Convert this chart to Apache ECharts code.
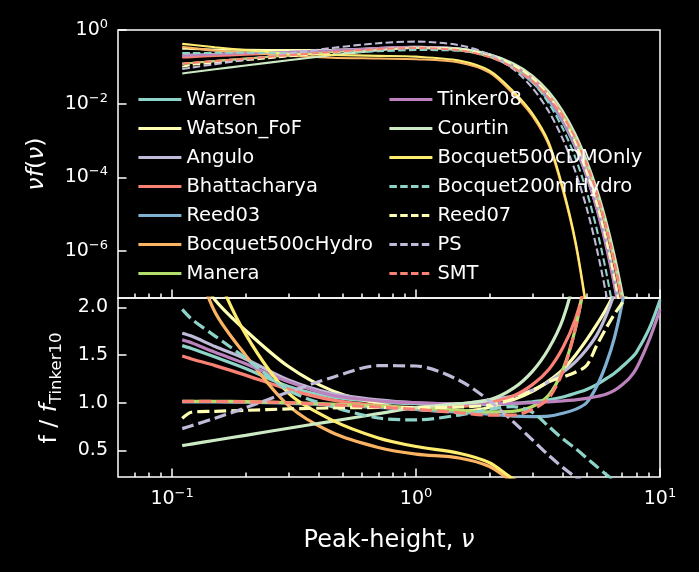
<!DOCTYPE html>
<html>
<head>
<meta charset="utf-8">
<title>Mass function fits vs peak height</title>
<script src="https://cdn.jsdelivr.net/npm/echarts@6.0.0/dist/echarts.min.js"></script>
<style>
  html, body { margin: 0; padding: 0; background: #000; }
  #chart { width: 699px; height: 572px; }
</style>
</head>
<body>
<div id="chart"></div>
<script>
// peak height grid shared by every curve
var nu = [0.11, 0.12, 0.15, 0.2, 0.3, 0.45, 0.7, 1.0, 1.5, 2.0, 2.5, 3.0, 3.5, 4.0, 4.5, 5.0, 5.5, 6.0, 6.5, 7.0, 7.5, 8.0, 9.0, 10.0];

// upper panel: nu f(nu)
var warrenTop = [0.192, 0.197, 0.209, 0.225, 0.241, 0.271, 0.319, 0.346, 0.308, 0.208, 0.108, 0.0441, 0.0141, 3.56e-3, 7.16e-4, 1.14e-4, 1.46e-5, 1.49e-6, 1.21e-7, 7.9e-9, 4.1e-10];
var watsonTop = [0.312, 0.308, 0.294, 0.291, 0.284, 0.289, 0.313, 0.325, 0.286, 0.201, 0.1125, 0.0489, 0.0168, 4.53e-3, 9.76e-4, 1.66e-4, 2.23e-5, 2.35e-6, 1.98e-7, 1.34e-8, 7.2e-10];
var anguloTop = [0.207, 0.214, 0.225, 0.241, 0.255, 0.282, 0.326, 0.349, 0.312, 0.218, 0.117, 0.0494, 0.0167, 4.43e-3, 9.31e-4, 1.56e-4, 2.09e-5, 2.27e-6, 1.98e-7, 1.40e-8, 7.9e-10];
var bhattTop = [0.179, 0.183, 0.197, 0.213, 0.235, 0.264, 0.307, 0.332, 0.302, 0.212, 0.117, 0.052, 0.0184, 5.30e-3, 1.22e-3, 2.30e-4, 3.49e-5, 4.28e-6, 4.24e-7, 3.36e-8, 2.1e-9];
var reed03Top = [0.121, 0.127, 0.143, 0.166, 0.205, 0.251, 0.300, 0.325, 0.283, 0.187, 0.0939, 0.0373, 0.0117, 2.99e-3, 6.05e-4, 1.0e-4, 1.43e-5, 1.66e-6, 1.55e-7, 1.17e-8, 7.0e-10];
var b500HydroTop = [0.348, 0.327, 0.276, 0.248, 0.200, 0.177, 0.168, 0.161, 0.132, 0.070, 0.0186, 4.6e-3, 7.5e-4, 4.3e-5, 1.6e-6, 2.3e-8, 2e-10];
var maneraTop = [0.1217, 0.1275, 0.1436, 0.1672, 0.2059, 0.2522, 0.3049, 0.3301, 0.2894, 0.1918, 0.0994, 0.0419, 0.0147, 4.53e-3, 1.16e-3, 2.40e-4, 3.91e-5, 5.23e-6, 5.53e-7, 4.85e-8, 3.4e-9];
var tinker08Top = [0.199, 0.205, 0.217, 0.233, 0.251, 0.277, 0.322, 0.349, 0.312, 0.210, 0.109, 0.0437, 0.0138, 3.42e-3, 6.70e-4, 1.05e-4, 1.30e-5, 1.29e-6, 1.04e-7, 6.8e-9, 3.5e-10];
var courtinTop = [0.0659, 0.0711, 0.0857, 0.1087, 0.1507, 0.2061, 0.2797, 0.3318, 0.3115, 0.2183, 0.1256, 0.0581, 0.0214, 6.31e-3, 1.53e-3, 3.0e-4, 5.14e-5, 7.13e-6, 8.29e-7, 7.98e-8, 6.2e-9];
var b500DmoTop = [0.420, 0.396, 0.340, 0.284, 0.2265, 0.210, 0.199, 0.189, 0.148, 0.0784, 0.0218, 5.4e-3, 8.9e-4, 5.1e-5, 1.9e-6, 2.8e-8, 2.5e-10];
var b200HydroTop = [0.2374, 0.2361, 0.2406, 0.2428, 0.2327, 0.2458, 0.2654, 0.2864, 0.2737, 0.1971, 0.1048, 0.0393, 0.0102, 2.08e-3, 3.38e-4, 4.2e-5, 4.04e-6, 2.97e-7, 1.66e-8, 6.8e-10];
var reed07Top = [0.1001, 0.113, 0.1288, 0.152, 0.1925, 0.2419, 0.3002, 0.3318, 0.3004, 0.2066, 0.1136, 0.0494, 0.0167, 4.26e-3, 8.59e-4, 1.39e-4, 1.96e-5, 2.11e-6, 1.78e-7, 1.17e-8, 6.2e-10];
var psTop = [0.0873, 0.0952, 0.1186, 0.1564, 0.2289, 0.3233, 0.4388, 0.484, 0.3888, 0.216, 0.0876, 0.0266, 6.1e-3, 1.07e-3, 1.43e-4, 1.49e-5, 1.18e-6, 7.3e-8, 3.4e-9];
var smtTop = [0.1217, 0.1275, 0.1433, 0.1669, 0.2059, 0.2509, 0.3018, 0.3248, 0.2816, 0.1844, 0.095, 0.0406, 0.0143, 4.46e-3, 1.16e-3, 2.40e-4, 3.91e-5, 5.23e-6, 5.53e-7, 4.85e-8, 3.4e-9];

// lower panel: f / f_Tinker10
var warrenRatio = [1.60, 1.57, 1.48, 1.36, 1.17, 1.06, 1.01, 0.99, 0.98, 0.98, 0.99, 1.01, 1.03, 1.06, 1.10, 1.14, 1.19, 1.25, 1.31, 1.38, 1.45, 1.53, 1.77, 2.08];
var watsonRatio = [2.6, 2.45, 2.08, 1.76, 1.38, 1.13, 0.99, 0.93, 0.91, 0.95, 1.03, 1.12, 1.23, 1.35, 1.5, 1.66, 1.82, 1.98, 2.15, 2.35, 2.55, 2.8, 3.3, 3.9];
var anguloRatio = [1.73, 1.70, 1.59, 1.46, 1.24, 1.10, 1.03, 1.0, 0.99, 1.03, 1.07, 1.13, 1.22, 1.32, 1.43, 1.56, 1.71, 1.91, 2.15, 2.45, 2.8, 3.2, 4.2, 5.5];
var bhattRatio = [1.49, 1.46, 1.39, 1.29, 1.14, 1.03, 0.97, 0.95, 0.96, 1.0, 1.07, 1.19, 1.35, 1.58, 1.88, 2.3, 2.85, 3.6, 4.6, 5.9, 7.5, 9.5, 15, 24];
var reed03Ratio = [1.01, 1.01, 1.01, 1.005, 0.995, 0.98, 0.95, 0.93, 0.9, 0.88, 0.86, 0.855, 0.86, 0.89, 0.93, 1.0, 1.17, 1.40, 1.68, 2.05, 2.5, 3.1, 4.8, 7.5];
var b500HydroRatio = [2.9, 2.6, 1.95, 1.5, 0.97, 0.69, 0.53, 0.46, 0.42, 0.33, 0.17, 0.105];
var maneraRatio = [1.015, 1.015, 1.015, 1.012, 1.0, 0.985, 0.965, 0.945, 0.92, 0.905, 0.91, 0.96, 1.08, 1.35, 1.78, 2.4, 3.2, 4.4, 6.0, 8.5, 12, 17, 35, 70];
var tinker08Ratio = [1.66, 1.63, 1.53, 1.41, 1.22, 1.08, 1.02, 1.0, 0.99, 0.99, 0.995, 1.0, 1.01, 1.02, 1.03, 1.045, 1.065, 1.09, 1.13, 1.19, 1.26, 1.36, 1.65, 1.98];
var courtinRatio = [0.55, 0.566, 0.606, 0.658, 0.732, 0.805, 0.885, 0.95, 0.99, 1.03, 1.15, 1.33, 1.57, 1.88, 2.35, 3.0, 4.2, 6.0, 9.0, 14, 22, 35, 90, 250];
var b500DmoRatio = [3.5, 3.15, 2.4, 1.72, 1.1, 0.82, 0.63, 0.54, 0.47, 0.37, 0.2, 0.124];
var b200HydroRatio = [1.98, 1.88, 1.70, 1.47, 1.13, 0.96, 0.84, 0.82, 0.87, 0.93, 0.96, 0.9, 0.75, 0.62, 0.52, 0.42, 0.33, 0.25, 0.18, 0.12, 0.08, 0.05, 0.02, 0.01];
var reed07Ratio = [0.835, 0.9, 0.91, 0.92, 0.935, 0.945, 0.95, 0.95, 0.955, 0.975, 1.04, 1.13, 1.22, 1.27, 1.32, 1.39, 1.6, 1.78, 1.93, 2.05, 2.2, 2.4, 3.0, 3.8];
var psRatio = [0.728, 0.758, 0.838, 0.947, 1.112, 1.263, 1.389, 1.386, 1.236, 1.019, 0.802, 0.609, 0.447, 0.319, 0.22, 0.149, 0.097, 0.061];
var smtRatio = [1.015, 1.015, 1.013, 1.01, 1.0, 0.98, 0.955, 0.93, 0.895, 0.87, 0.87, 0.93, 1.05, 1.33, 1.78, 2.4, 3.2, 4.4, 6.0, 8.5, 12, 17, 35, 70];

// tick positions
var xMajor = [0.1, 1, 10];
var xMinor = [0.07, 0.08, 0.09, 0.2, 0.3, 0.4, 0.5, 0.6, 0.7, 0.8, 0.9, 2, 3, 4, 5, 6, 7, 8, 9];
var yTopTicks = [1e-6, 1e-4, 1e-2, 1];
var yBottomTicks = [0.5, 1.0, 1.5, 2.0];

var curves = [
  ['Warren', '#8dd3c7', false, warrenTop, warrenRatio],
  ['Watson_FoF', '#feffb3', false, watsonTop, watsonRatio],
  ['Angulo', '#bfbbd9', false, anguloTop, anguloRatio],
  ['Bhattacharya', '#fa8174', false, bhattTop, bhattRatio],
  ['Reed03', '#81b1d2', false, reed03Top, reed03Ratio],
  ['Bocquet500cHydro', '#fdb462', false, b500HydroTop, b500HydroRatio],
  ['Manera', '#b3de69', false, maneraTop, maneraRatio],
  ['Tinker08', '#bc82bd', false, tinker08Top, tinker08Ratio],
  ['Courtin', '#ccebc4', false, courtinTop, courtinRatio],
  ['Bocquet500cDMOnly', '#ffed6f', false, b500DmoTop, b500DmoRatio],
  ['Bocquet200mHydro', '#8dd3c7', true, b200HydroTop, b200HydroRatio],
  ['Reed07', '#feffb3', true, reed07Top, reed07Ratio],
  ['PS', '#bfbbd9', true, psTop, psRatio],
  ['SMT', '#fa8174', true, smtTop, smtRatio]
];

var FONT = 'DejaVu Sans';
var names = curves.map(function (c) { return c[0]; });

function pairs(vals) {
  var out = [];
  for (var i = 0; i < vals.length; i++) {
    if (vals[i] != null) out.push([nu[i], vals[i]]);
  }
  return out;
}

var series = [];
// top panel first so the legend takes its icons from there
curves.forEach(function (c) {
  series.push({
    name: c[0], type: 'line', xAxisIndex: 0, yAxisIndex: 0,
    data: pairs(c[3]), symbol: 'none', smooth: 0.3,
    lineStyle: { color: c[1], width: 2.1, type: c[2] ? [7.5, 3.3] : 'solid' },
    itemStyle: { color: c[1] }
  });
});
curves.forEach(function (c) {
  series.push({
    name: c[0], type: 'line', xAxisIndex: 2, yAxisIndex: 1,
    data: pairs(c[4]), symbol: 'none', smooth: 0.3,
    lineStyle: { color: c[1], width: 3.2, type: c[2] ? [12, 5] : 'solid' },
    itemStyle: { color: c[1] }
  });
});

function powLabel(v) {
  var e = Math.round(Math.log10(v));
  return '{b|10}{e|' + (e < 0 ? '\u2212' + (-e) : e) + '}';
}
var powRich = {
  b: { fontSize: 19, lineHeight: 24, color: '#fff', fontFamily: FONT },
  e: { fontSize: 13, lineHeight: 10, color: '#fff', fontFamily: FONT, verticalAlign: 'top' }
};

function xAxisFor(grid, ticks, len, labels) {
  return {
    gridIndex: grid, type: 'log', min: 0.06, max: 10, position: 'bottom',
    axisLine: { show: false },
    splitLine: { show: false },
    axisTick: { show: true, inside: true, length: len, customValues: ticks, lineStyle: { color: '#fff', width: 1.5 } },
    axisLabel: labels ? { show: true, customValues: ticks, formatter: powLabel, rich: powRich, margin: 10 } : { show: false }
  };
}

function legendCol(list, left) {
  return {
    data: list, left: left, top: 88, orient: 'vertical', padding: 0,
    itemWidth: 43, itemHeight: 14, itemGap: 6,
    textStyle: { color: '#fff', fontSize: 19.5, fontFamily: FONT, lineHeight: 23 },
    lineStyle: { width: 2.8 },
    itemStyle: { opacity: 0, borderWidth: 0 }
  };
}

var option = {
  backgroundColor: '#000',
  animation: false,
  grid: [
    { left: 118, top: 30, width: 542, height: 268, show: true, borderColor: '#fff', borderWidth: 1.5, backgroundColor: 'transparent' },
    { left: 118, top: 298, width: 542, height: 179, show: true, borderColor: '#fff', borderWidth: 1.5, backgroundColor: 'transparent' }
  ],
  xAxis: [
    xAxisFor(0, xMajor, 8.5, false),
    xAxisFor(0, xMinor, 4.5, false),
    xAxisFor(1, xMajor, 8.5, true),
    xAxisFor(1, xMinor, 4.5, false)
  ],
  yAxis: [
    {
      gridIndex: 0, type: 'log', min: 5.3e-8, max: 1,
      axisLine: { show: false }, splitLine: { show: false },
      axisTick: { inside: true, length: 8.5, customValues: yTopTicks, lineStyle: { color: '#fff', width: 1.5 } },
      axisLabel: { customValues: yTopTicks, formatter: powLabel, rich: powRich, margin: 10 }
    },
    {
      gridIndex: 1, type: 'value', min: 0.22, max: 2.1,
      axisLine: { show: false }, splitLine: { show: false },
      axisTick: { inside: true, length: 8.5, customValues: yBottomTicks, lineStyle: { color: '#fff', width: 1.5 } },
      axisLabel: {
        customValues: yBottomTicks, margin: 10, color: '#fff', fontSize: 19, fontFamily: FONT,
        formatter: function (v) { return v.toFixed(1); }
      }
    }
  ],
  legend: [legendCol(names.slice(0, 7), 137), legendCol(names.slice(7), 388)],
  graphic: [
    {
      type: 'text', x: 37, y: 164, rotation: Math.PI / 2,
      style: {
        text: '{i|\u03bdf}{n|(}{i|\u03bd}{n|)}', align: 'center', verticalAlign: 'middle', fill: '#fff',
        rich: {
          i: { fontSize: 23.5, fontStyle: 'italic', fontFamily: FONT, fill: '#fff' },
          n: { fontSize: 23.5, fontFamily: FONT, fill: '#fff' }
        }
      }
    },
    {
      type: 'text', x: 50, y: 388, rotation: Math.PI / 2,
      style: {
        text: '{n|f / }{i|f}{s|Tinker10}', align: 'center', verticalAlign: 'middle', fill: '#fff',
        rich: {
          n: { fontSize: 23.5, lineHeight: 30, fontFamily: FONT, fill: '#fff' },
          i: { fontSize: 23.5, lineHeight: 30, fontStyle: 'italic', fontFamily: FONT, fill: '#fff' },
          s: { fontSize: 16.5, lineHeight: 14, fontFamily: FONT, fill: '#fff', verticalAlign: 'bottom' }
        }
      }
    },
    {
      type: 'text', x: 389, y: 541,
      style: {
        text: '{n|Peak-height, }{i|\u03bd}', align: 'center', verticalAlign: 'middle', fill: '#fff',
        rich: {
          n: { fontSize: 24, fontFamily: FONT, fill: '#fff' },
          i: { fontSize: 24, fontStyle: 'italic', fontFamily: FONT, fill: '#fff' }
        }
      }
    }
  ],
  series: series
};

var chart = echarts.init(document.getElementById('chart'));
chart.setOption(option);
</script>
</body>
</html>
